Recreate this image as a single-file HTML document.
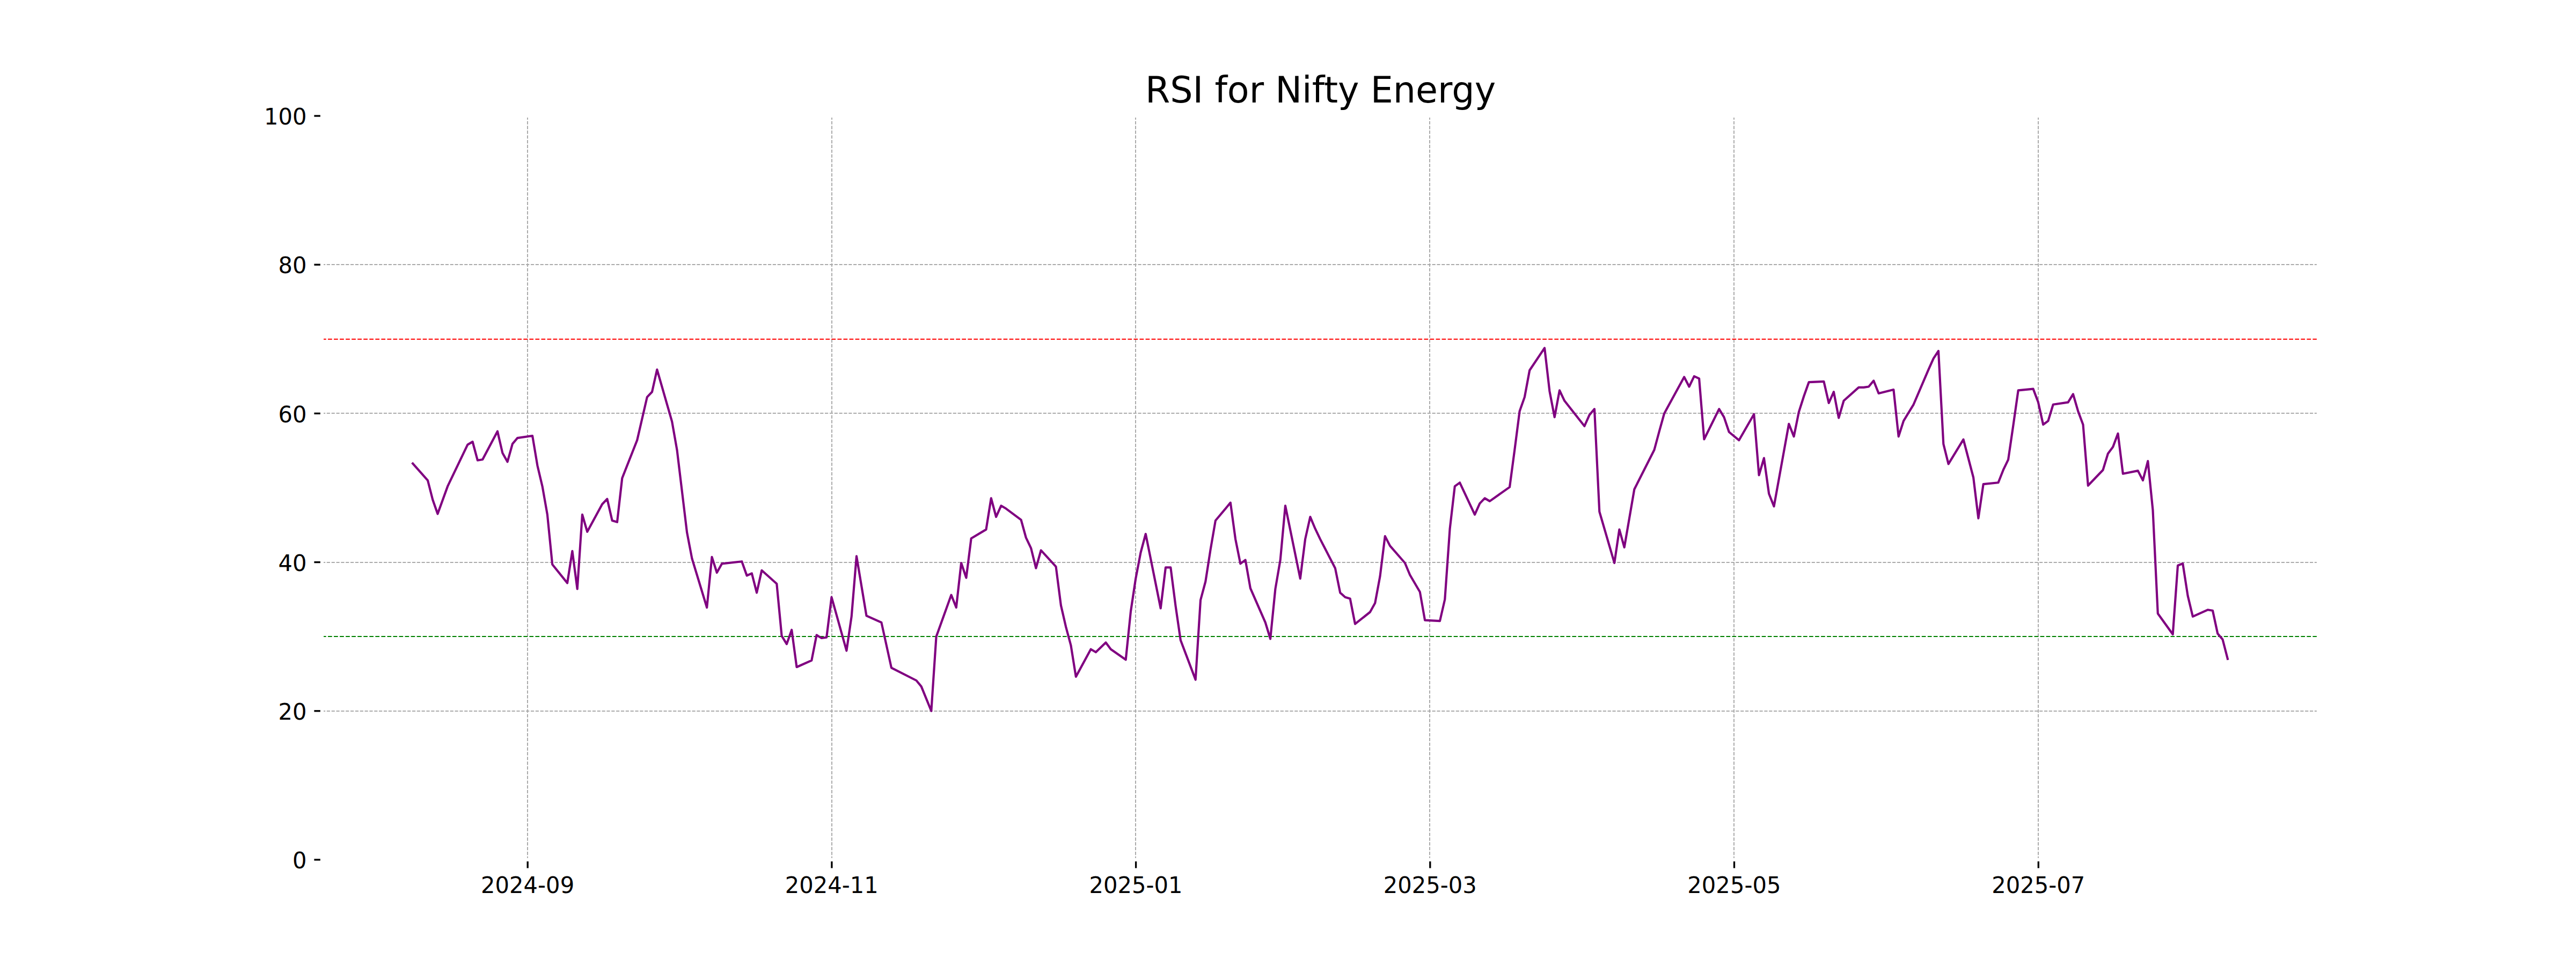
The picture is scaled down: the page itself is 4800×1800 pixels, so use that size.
<!DOCTYPE html>
<html lang="en"><head><meta charset="utf-8"><title>RSI for Nifty Energy</title>
<style>html,body{margin:0;padding:0;background:#fff}body{width:4800px;height:1800px;overflow:hidden}svg{display:block}text{font-family:"DejaVu Sans","Liberation Sans",sans-serif;fill:#000}.tk{font-size:41.67px}.tt{font-size:66.67px}</style></head><body>
<svg width="4800" height="1800" viewBox="0 0 4800 1800">
<rect width="4800" height="1800" fill="#fff"/>
<g stroke="#ababab" stroke-width="2" stroke-dasharray="6.17 2.67" fill="none">
<line x1="983" y1="1602.0" x2="983" y2="216.0"/>
<line x1="1550" y1="1602.0" x2="1550" y2="216.0"/>
<line x1="2116" y1="1602.0" x2="2116" y2="216.0"/>
<line x1="2664" y1="1602.0" x2="2664" y2="216.0"/>
<line x1="3231" y1="1602.0" x2="3231" y2="216.0"/>
<line x1="3798" y1="1602.0" x2="3798" y2="216.0"/>
<line x1="600.0" y1="1325" x2="4320.0" y2="1325"/>
<line x1="600.0" y1="1048" x2="4320.0" y2="1048"/>
<line x1="600.0" y1="770" x2="4320.0" y2="770"/>
<line x1="600.0" y1="493" x2="4320.0" y2="493"/>
</g>
<line x1="600.0" y1="632.0" x2="4320.0" y2="632.0" stroke="#ff0000" stroke-width="2.08" stroke-dasharray="7.71 3.33"/>
<line x1="600.0" y1="1186.0" x2="4320.0" y2="1186.0" stroke="#008000" stroke-width="2.08" stroke-dasharray="7.71 3.33"/>
<polyline points="769.1,863.7 797.0,895.1 806.3,931.2 815.5,957.5 834.1,906.2 871.3,828.6 880.6,823.1 889.9,857.7 899.2,856.3 927.0,803.7 936.3,843.9 945.6,860.5 954.9,827.2 964.2,816.1 992.1,812.0 1001.4,867.4 1010.6,906.2 1019.9,958.9 1029.2,1051.8 1057.1,1086.4 1066.4,1026.8 1075.7,1097.5 1085.0,958.9 1094.3,990.8 1122.1,939.5 1131.4,929.8 1140.7,970.0 1150.0,972.8 1159.3,891.0 1187.2,820.3 1205.8,739.9 1215.0,730.2 1224.3,688.6 1252.2,785.6 1261.5,838.3 1280.1,992.2 1289.4,1040.7 1317.2,1132.1 1326.5,1037.9 1335.8,1067.0 1345.1,1050.4 1382.3,1046.2 1391.6,1072.5 1400.9,1068.4 1410.1,1104.4 1419.4,1062.8 1447.3,1087.8 1456.6,1184.8 1465.9,1200.1 1475.2,1173.7 1484.5,1243.0 1512.3,1230.6 1521.6,1183.4 1530.9,1189.0 1540.2,1187.6 1549.5,1112.7 1577.4,1212.5 1586.7,1148.8 1596.0,1036.4 1614.5,1147.4 1642.4,1159.9 1661.0,1244.4 1707.5,1268.0 1716.7,1279.1 1735.3,1324.8 1744.6,1186.2 1772.5,1108.6 1781.8,1132.1 1791.1,1049.0 1800.4,1076.7 1809.7,1003.2 1837.5,986.6 1846.8,928.4 1856.1,963.1 1865.4,942.3 1874.7,947.8 1902.6,968.6 1911.8,1001.9 1921.1,1021.3 1930.4,1058.7 1939.7,1025.4 1967.6,1055.9 1976.9,1128.0 1986.2,1168.2 1995.5,1202.8 2004.8,1261.0 2032.6,1209.8 2041.9,1215.3 2060.5,1197.3 2069.8,1209.8 2097.7,1229.2 2107.0,1139.1 2116.2,1078.1 2125.5,1029.6 2134.8,994.9 2162.7,1133.5 2172.0,1057.3 2181.3,1057.3 2190.6,1129.4 2199.9,1193.1 2227.7,1266.6 2237.0,1118.3 2246.3,1083.6 2255.6,1024.0 2264.9,970.0 2292.8,936.7 2302.1,1004.6 2311.3,1050.4 2320.6,1043.4 2329.9,1096.1 2357.8,1159.9 2367.1,1190.4 2376.4,1097.5 2385.7,1043.4 2395.0,942.3 2422.8,1078.1 2432.1,1004.6 2441.4,963.1 2450.7,985.2 2460.0,1004.6 2487.9,1058.7 2497.2,1104.4 2506.5,1112.7 2515.7,1115.5 2525.0,1162.6 2552.9,1140.5 2562.2,1123.8 2571.5,1073.9 2580.8,999.1 2590.1,1017.1 2617.9,1049.0 2627.2,1071.2 2645.8,1103.0 2655.1,1155.7 2683.0,1157.1 2692.3,1116.9 2701.6,985.2 2710.8,906.2 2720.1,899.3 2748.0,958.9 2757.3,938.1 2766.6,928.4 2775.9,933.9 2813.0,907.6 2822.3,838.3 2831.6,766.2 2840.9,739.9 2850.2,690.0 2878.1,648.4 2887.4,728.8 2896.7,777.3 2906.0,727.4 2915.2,746.8 2952.4,794.0 2961.7,773.2 2971.0,762.1 2980.3,953.4 3008.2,1049.0 3017.4,986.6 3026.7,1019.9 3045.3,911.8 3082.5,838.3 3091.8,803.7 3101.1,770.4 3138.2,702.5 3147.5,720.5 3156.8,701.1 3166.1,705.3 3175.4,818.5 3203.3,762.1 3212.5,777.3 3221.8,805.0 3240.4,820.3 3268.3,771.8 3277.6,885.4 3286.9,853.6 3296.2,920.1 3305.5,943.6 3333.3,789.8 3342.6,813.4 3351.9,767.6 3361.2,738.5 3370.5,712.2 3398.4,710.8 3407.7,751.0 3416.9,730.2 3426.2,778.7 3435.5,746.8 3463.4,721.9 3472.7,721.9 3482.0,720.5 3491.3,709.4 3500.6,733.0 3528.4,726.0 3537.7,813.4 3547.0,784.3 3565.6,753.8 3593.5,688.6 3602.8,667.8 3612.0,654.0 3621.3,827.2 3630.6,864.6 3658.5,818.9 3677.1,889.6 3686.4,965.8 3695.7,902.1 3723.5,899.3 3732.8,875.7 3742.1,856.3 3751.4,792.6 3760.7,727.4 3788.6,724.7 3797.9,749.6 3807.2,791.2 3816.4,784.3 3825.7,753.8 3853.6,749.6 3862.9,734.4 3872.2,766.2 3881.5,791.2 3890.8,904.8 3918.6,875.7 3927.9,845.2 3937.2,832.8 3946.5,807.8 3955.8,882.7 3983.7,877.1 3993.0,895.1 4002.3,859.1 4011.5,950.6 4020.8,1143.2 4048.7,1182.0 4058.0,1053.8 4067.3,1050.1 4076.6,1110.0 4085.9,1148.8 4113.7,1136.3 4123.0,1137.7 4132.3,1180.7 4141.6,1191.7 4150.9,1227.8" fill="none" stroke="#800080" stroke-width="4.17" stroke-linejoin="round" stroke-linecap="square"/>
<g stroke="#000" stroke-width="3.33">
<line x1="983.2" y1="1602.0" x2="983.2" y2="1617.6"/>
<line x1="1549.9" y1="1602.0" x2="1549.9" y2="1617.6"/>
<line x1="2116.6" y1="1602.0" x2="2116.6" y2="1617.6"/>
<line x1="2664.8" y1="1602.0" x2="2664.8" y2="1617.6"/>
<line x1="3231.5" y1="1602.0" x2="3231.5" y2="1617.6"/>
<line x1="3798.3" y1="1602.0" x2="3798.3" y2="1617.6"/>
<line x1="585.4" y1="1602.0" x2="600.0" y2="1602.0"/>
<line x1="585.4" y1="1324.8" x2="600.0" y2="1324.8"/>
<line x1="585.4" y1="1047.6" x2="600.0" y2="1047.6"/>
<line x1="585.4" y1="770.4" x2="600.0" y2="770.4"/>
<line x1="585.4" y1="493.2" x2="600.0" y2="493.2"/>
<line x1="585.4" y1="216.0" x2="600.0" y2="216.0"/>
</g>
<rect x="600.0" y="216.0" width="3720.0" height="1386.0" fill="none" stroke="#fff" stroke-width="6.25"/>
<text class="tk" transform="translate(983.1,1663.6) scale(1,1.033)" text-anchor="middle">2024-09</text>
<text class="tk" transform="translate(1549.8,1663.6) scale(1,1.033)" text-anchor="middle">2024-11</text>
<text class="tk" transform="translate(2116.5,1663.6) scale(1,1.033)" text-anchor="middle">2025-01</text>
<text class="tk" transform="translate(2664.7,1663.6) scale(1,1.033)" text-anchor="middle">2025-03</text>
<text class="tk" transform="translate(3231.4,1663.6) scale(1,1.033)" text-anchor="middle">2025-05</text>
<text class="tk" transform="translate(3798.2,1663.6) scale(1,1.033)" text-anchor="middle">2025-07</text>
<text class="tk" transform="translate(571.6,1618.2) scale(1,1.033)" text-anchor="end">0</text>
<text class="tk" transform="translate(571.6,1341.0) scale(1,1.033)" text-anchor="end">20</text>
<text class="tk" transform="translate(571.6,1063.8) scale(1,1.033)" text-anchor="end">40</text>
<text class="tk" transform="translate(571.6,786.6) scale(1,1.033)" text-anchor="end">60</text>
<text class="tk" transform="translate(571.6,509.4) scale(1,1.033)" text-anchor="end">80</text>
<text class="tk" transform="translate(571.6,232.2) scale(1,1.033)" text-anchor="end">100</text>
<text class="tt" transform="translate(2460.5,190.7) scale(1,1.018)" text-anchor="middle">RSI for Nifty Energy</text>
</svg></body></html>
